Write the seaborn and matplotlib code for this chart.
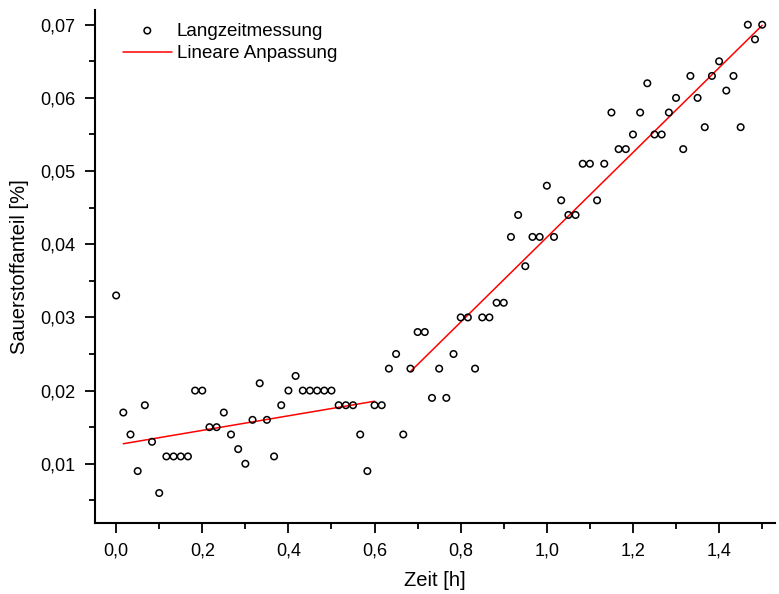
import numpy as np
import pandas as pd
import matplotlib
matplotlib.use("Agg")
import matplotlib.pyplot as plt
from matplotlib.ticker import MultipleLocator, FuncFormatter
import seaborn as sns

# measurement: one value per minute, time in hours
minutes = list(range(91))
oxygen = [0.033, 0.017, 0.014, 0.009, 0.018, 0.013, 0.006, 0.011, 0.011, 0.011,
          0.011, 0.020, 0.020, 0.015, 0.015, 0.017, 0.014, 0.012, 0.010, 0.016,
          0.021, 0.016, 0.011, 0.018, 0.020, 0.022, 0.020, 0.020, 0.020, 0.020,
          0.020, 0.018, 0.018, 0.018, 0.014, 0.009, 0.018, 0.018, 0.023, 0.025,
          0.014, 0.023, 0.028, 0.028, 0.019, 0.023, 0.019, 0.025, 0.030, 0.030,
          0.023, 0.030, 0.030, 0.032, 0.032, 0.041, 0.044, 0.037, 0.041, 0.041,
          0.048, 0.041, 0.046, 0.044, 0.044, 0.051, 0.051, 0.046, 0.051, 0.058,
          0.053, 0.053, 0.055, 0.058, 0.062, 0.055, 0.055, 0.058, 0.060, 0.053,
          0.063, 0.060, 0.056, 0.063, 0.065, 0.061, 0.063, 0.056, 0.070, 0.068,
          0.070]
time_h = [m / 60 for m in minutes]

# fit ranges (minute indices)
fit1_range = (1, 36)
fit2_range = (41, 90)

df = pd.DataFrame({"Zeit": time_h, "O2": oxygen})

def fit_segment(a, b):
    sub = df.iloc[a:b + 1]
    k, d = np.polyfit(sub["Zeit"], sub["O2"], 1)
    xs = np.array([sub["Zeit"].iloc[0], sub["Zeit"].iloc[-1]])
    return pd.DataFrame({"Zeit": xs, "O2": k * xs + d})

fit1 = fit_segment(*fit1_range)
fit2 = fit_segment(*fit2_range)

sns.set_style("ticks")
plt.rcParams["font.family"] = ["Liberation Sans", "DejaVu Sans"]
plt.rcParams["text.color"] = "black"
plt.rcParams["axes.labelcolor"] = "black"

fig = plt.figure(figsize=(7.79, 5.94), dpi=100)
ax = fig.add_axes([0.122, 0.1195, 0.873, 0.8635])

sns.scatterplot(data=df, x="Zeit", y="O2", ax=ax, marker="o", s=22,
                facecolor="none", edgecolor="black", linewidth=1.1,
                label="Langzeitmessung", zorder=3)
sns.lineplot(data=fit1, x="Zeit", y="O2", ax=ax, color="#ff0000", lw=1.1,
             label="Lineare Anpassung", zorder=2)
sns.lineplot(data=fit2, x="Zeit", y="O2", ax=ax, color="#ff0000", lw=1.1,
             zorder=2)

ax.set_xlim(-0.049, 1.53)
ax.set_ylim(0.0019, 0.072)
ax.xaxis.set_major_locator(MultipleLocator(0.2))
ax.xaxis.set_minor_locator(MultipleLocator(0.1))
ax.yaxis.set_major_locator(MultipleLocator(0.01))
ax.yaxis.set_minor_locator(MultipleLocator(0.005))
ax.xaxis.set_major_formatter(FuncFormatter(lambda v, p: f"{v:.1f}".replace(".", ",")))
ax.yaxis.set_major_formatter(FuncFormatter(lambda v, p: f"{v:.2f}".replace(".", ",")))
ax.tick_params(which="major", direction="out", length=7, width=1.3, labelsize=13,
               color="black", labelcolor="black", pad=7)
ax.tick_params(which="minor", direction="out", length=4, width=1.3, color="black")
for s in ["left", "bottom"]:
    ax.spines[s].set_linewidth(1.5)
    ax.spines[s].set_color("black")
sns.despine(ax=ax)

ax.set_xlabel("Zeit [h]", fontsize=14.5, labelpad=8, color="black")
ax.set_ylabel("Sauerstoffanteil [%]", fontsize=14.5, labelpad=8, color="black")

leg = ax.legend(loc="upper left", frameon=False, fontsize=13.5,
                bbox_to_anchor=(0.041, 0.976), handlelength=2.6, handletextpad=0.28,
                borderaxespad=0.0, borderpad=0.0, labelspacing=0.3,
                labelcolor="black")

fig.savefig("out.png", dpi=100)
